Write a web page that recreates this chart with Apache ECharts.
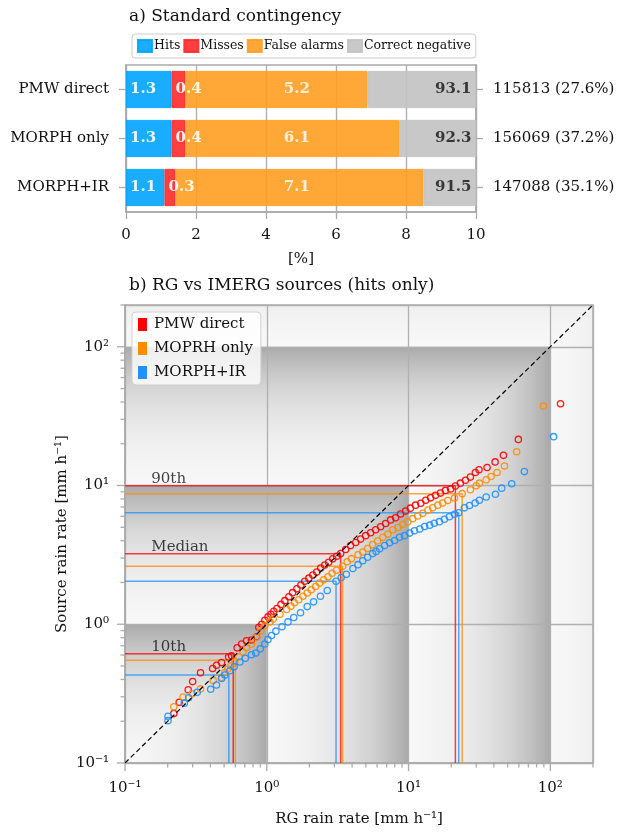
<!DOCTYPE html>
<html>
<head>
<meta charset="utf-8">
<script src="https://cdn.jsdelivr.net/npm/echarts@6/dist/echarts.min.js"></script>
<style>
  html, body { margin: 0; padding: 0; background: #ffffff; }
  #chart { width: 624px; height: 832px; }
</style>
</head>
<body>
<div id="chart"></div>
<script>
// ---------- panel a: contingency shares per IMERG source [%] ----------
const sources = ['PMW direct', 'MORPH only', 'MORPH+IR'];
const sampleLabels = ['115813 (27.6%)', '156069 (37.2%)', '147088 (35.1%)'];
const hits = [1.3, 1.3, 1.1];
const misses = [0.4, 0.4, 0.3];
const falseAlarms = [5.2, 6.1, 7.1];
const correctNegative = [93.1, 92.3, 91.5];
const pctAxis = [0, 10, 2];            // min, max, step of the [%] axis

// ---------- panel b: quantile pairs [RG, source] in mm/h ----------
const qqPMW = [
  [0.221, 0.227], [0.241, 0.274], [0.279, 0.337], [0.300, 0.386], [0.341, 0.447],
  [0.415, 0.480], [0.442, 0.506], [0.480, 0.529], [0.538, 0.581], [0.564, 0.593],
  [0.618, 0.676], [0.664, 0.721], [0.720, 0.761], [0.780, 0.770], [0.846, 0.813],
  [0.878, 0.952], [0.922, 1.00], [0.968, 1.07], [1.02, 1.13], [1.07, 1.18],
  [1.12, 1.24], [1.18, 1.30], [1.26, 1.39], [1.34, 1.48], [1.43, 1.58],
  [1.52, 1.69], [1.63, 1.80], [1.74, 1.92], [1.85, 2.04], [1.98, 2.15],
  [2.11, 2.26], [2.25, 2.38], [2.40, 2.54], [2.56, 2.67], [2.73, 2.80],
  [2.92, 2.96], [3.11, 3.09], [3.32, 3.23], [3.60, 3.46], [3.90, 3.69],
  [4.24, 3.88], [4.59, 4.11], [4.98, 4.35], [5.40, 4.57], [5.86, 4.80],
  [6.35, 5.04], [6.89, 5.33], [7.47, 5.65], [8.10, 5.86], [8.78, 6.23],
  [9.53, 6.54], [10.3, 6.87], [11.2, 7.22], [12.2, 7.45], [13.2, 7.83],
  [14.3, 8.15], [15.5, 8.49], [16.8, 8.82], [18.2, 9.22], [19.8, 9.45],
  [21.4, 9.92], [23.2, 10.4], [25.2, 10.9], [27.3, 11.5], [29.6, 12.4],
  [31.4, 13.0], [35.8, 13.5], [40.8, 14.8], [46.7, 16.5], [59.5, 21.5],
  [118, 38.8]
];
const qqMORPH = [
  [0.221, 0.254], [0.257, 0.299], [0.298, 0.315], [0.341, 0.342], [0.419, 0.394],
  [0.480, 0.414], [0.506, 0.449], [0.531, 0.476], [0.558, 0.500], [0.595, 0.535],
  [0.635, 0.581], [0.681, 0.630], [0.720, 0.676], [0.780, 0.721], [0.846, 0.805],
  [0.907, 0.896], [0.968, 0.973], [1.05, 1.04], [1.11, 1.09], [1.24, 1.18],
  [1.38, 1.28], [1.48, 1.35], [1.57, 1.43], [1.68, 1.50], [1.80, 1.59],
  [1.93, 1.68], [2.06, 1.77], [2.21, 1.87], [2.36, 1.98], [2.52, 2.09],
  [2.70, 2.20], [2.89, 2.33], [3.10, 2.45], [3.43, 2.62], [3.69, 2.82],
  [3.95, 2.97], [4.40, 3.17], [4.75, 3.32], [5.14, 3.52], [5.58, 3.75],
  [6.05, 3.98], [6.59, 4.23], [7.15, 4.47], [7.75, 4.80], [8.41, 4.98],
  [9.12, 5.26], [9.89, 5.47], [10.7, 5.77], [11.6, 6.03], [12.6, 6.30],
  [13.7, 6.65], [14.8, 6.90], [16.1, 7.22], [17.4, 7.49], [18.9, 7.79],
  [21.1, 8.13], [23.9, 8.74], [27.3, 9.32], [30.0, 9.95], [31.6, 10.4],
  [35.3, 11.0], [38.2, 11.6], [42.1, 12.4], [47.5, 13.8], [57.9, 17.5],
  [89.3, 37.4]
];
const qqIR = [
  [0.201, 0.202], [0.201, 0.217], [0.262, 0.270], [0.281, 0.295], [0.323, 0.323],
  [0.402, 0.340], [0.442, 0.365], [0.480, 0.407], [0.506, 0.430], [0.549, 0.462],
  [0.589, 0.493], [0.646, 0.535], [0.706, 0.569], [0.780, 0.603], [0.837, 0.620],
  [0.900, 0.665], [0.968, 0.721], [1.02, 0.776], [1.08, 0.829], [1.16, 0.892],
  [1.28, 0.960], [1.41, 1.04], [1.55, 1.12], [1.73, 1.21], [1.93, 1.34],
  [2.14, 1.45], [2.39, 1.59], [2.67, 1.75], [3.08, 2.04], [3.35, 2.17],
  [3.64, 2.29], [4.05, 2.52], [4.40, 2.69], [4.75, 2.87], [5.14, 3.04],
  [5.58, 3.23], [5.90, 3.35], [6.25, 3.50], [6.78, 3.69], [7.35, 3.86],
  [7.97, 4.01], [8.64, 4.23], [9.37, 4.35], [10.2, 4.54], [11.0, 4.72],
  [12.0, 4.85], [13.0, 5.06], [14.1, 5.18], [15.2, 5.35], [16.5, 5.49],
  [17.9, 5.71], [19.4, 5.96], [21.1, 6.20], [22.6, 6.36], [24.8, 6.90],
  [26.9, 7.18], [29.5, 7.49], [31.6, 7.83], [35.3, 8.26], [41.0, 8.64],
  [45.4, 9.57], [53.4, 10.3], [65.6, 12.6], [105.5, 22.5]
];
// 10th, median and 90th percentiles: RG value and source value
const pctNames = ['10th', 'Median', '90th'];
const pctRG_PMW = [0.58, 3.32, 21.4],  pctSrc_PMW = [0.613, 3.22, 9.95];
const pctRG_MORPH = [0.60, 3.43, 23.9], pctSrc_MORPH = [0.551, 2.62, 8.74];
const pctRG_IR = [0.54, 3.08, 22.6],   pctSrc_IR = [0.430, 2.04, 6.36];
const decadeLabels = ['10\u207B\u00B9', '10\u2070', '10\u00B9', '10\u00B2'];
const rateRange = [0.1, 200];

// ---------- styling ----------
const FONT = 'DejaVu Serif';
const INK = '#111111';
const FRAME = '#aaaaaa';
const GRIDLINE = '#b0b0b0';
const SHADE_MAX = 0.32;

const contingency = [
  { name: 'Hits', values: hits, color: '#00a3ff', inside: true },
  { name: 'Misses', values: misses, color: '#ff2a2a', inside: true },
  { name: 'False alarms', values: falseAlarms, color: '#ff9f22' },
  { name: 'Correct negative', values: correctNegative, color: '#c2c2c2' }
];
const qqSets = [
  { name: 'PMW direct', pts: qqPMW, rg: pctRG_PMW, src: pctSrc_PMW, color: '#ff0000' },
  { name: 'MOPRH only', pts: qqMORPH, rg: pctRG_MORPH, src: pctSrc_MORPH, color: '#ff8c00' },
  { name: 'MORPH+IR', pts: qqIR, rg: pctRG_IR, src: pctSrc_IR, color: '#1e90ff' }
];

const [R0, R1] = rateRange;
const decadeFmt = v => {
  const e = Math.log10(v), r = Math.round(e);
  return (Math.abs(e - r) < 1e-6 && r >= -1 && r <= 2) ? decadeLabels[r + 1] : '';
};

// gradient stops: shading grows linearly with the rate inside one decade
const shadeStops = [];
for (let i = 0; i <= 24; i++) {
  const t = i / 24;
  const a = SHADE_MAX * (Math.pow(10, t) - 1) / 9;
  shadeStops.push({ offset: t, color: 'rgba(0,0,0,' + a.toFixed(4) + ')' });
}
const bandLows = [0.1, 1, 10, 100];

// log-axis tick marks (decades long, 2..9 multiples short)
const tickMarks = [];
bandLows.forEach(d => {
  tickMarks.push({ v: d, major: true });
  for (let m = 2; m <= 9; m++) if (d * m <= R1 + 1e-9) tickMarks.push({ v: d * m, major: false });
});

const txt = (size, extra) => Object.assign({ fontFamily: FONT, fontSize: size, color: INK }, extra || {});

const series = [];

// panel a bars
contingency.forEach(c => {
  series.push({
    type: 'bar', name: c.name, stack: 'share', xAxisIndex: 0, yAxisIndex: 0,
    data: c.values, barWidth: '76%',
    itemStyle: { color: c.color, opacity: 0.9, borderColor: c.color, borderWidth: 1 },
    label: c.inside ? {
      show: true, position: 'insideLeft', distance: 4, color: '#ffffff',
      fontFamily: FONT, fontWeight: 'bold', fontSize: 15,
      formatter: p => p.value.toFixed(1)
    } : { show: false },
    emphasis: { disabled: true }, silent: true
  });
});
// false-alarm values written across the middle of the axis
series.push({
  type: 'scatter', xAxisIndex: 0, yAxisIndex: 0, clip: false, silent: true, z: 6,
  symbolSize: 1, itemStyle: { color: 'rgba(0,0,0,0)' },
  data: falseAlarms.map((v, i) => [4.88, i]),
  label: { show: true, position: 'inside', color: '#ffffff', fontFamily: FONT,
           fontWeight: 'bold', fontSize: 15, formatter: p => falseAlarms[p.dataIndex].toFixed(1) }
});
// correct-negative values at the right edge
series.push({
  type: 'scatter', xAxisIndex: 0, yAxisIndex: 0, clip: false, silent: true, z: 6,
  symbolSize: 1, itemStyle: { color: 'rgba(0,0,0,0)' },
  data: correctNegative.map((v, i) => [pctAxis[1], i]),
  label: { show: true, position: 'left', distance: 4, color: INK, fontFamily: FONT,
           fontWeight: 'bold', fontSize: 15, formatter: p => correctNegative[p.dataIndex].toFixed(1) }
});

// panel b: decade shading (L-shaped bands, darkest towards the upper decade edge)
series.push({
  type: 'custom', xAxisIndex: 1, yAxisIndex: 2, silent: true, z: -1,
  data: [[1, 1]],
  renderItem: (params, api) => {
    const kids = [];
    const a = api.coord([R0, R0]), b = api.coord([R1, R1]);
    kids.push({ type: 'rect', shape: { x: a[0], y: b[1], width: b[0] - a[0], height: a[1] - b[1] },
                style: { fill: '#f8f8f8' } });
    bandLows.forEach(low => {
      const high = low * 10, h = Math.min(high, R1);
      const lowPt = api.coord([low, low]);
      const full = api.coord([high, high]);
      const col = [[low, R0], [h, R0], [h, h], [low, low]].map(p => api.coord(p));
      kids.push({ type: 'polygon', shape: { points: col },
        style: { fill: { type: 'linear', x: lowPt[0], y: 0, x2: full[0], y2: 0, colorStops: shadeStops, global: true } } });
      const row = [[R0, low], [low, low], [h, h], [R0, h]].map(p => api.coord(p));
      kids.push({ type: 'polygon', shape: { points: row },
        style: { fill: { type: 'linear', x: 0, y: lowPt[1], x2: 0, y2: full[1], colorStops: shadeStops, global: true } } });
    });
    return { type: 'group', children: kids };
  }
});

// percentile guide lines
qqSets.forEach(s => {
  s.rg.forEach((x, i) => {
    series.push({
      type: 'line', xAxisIndex: 1, yAxisIndex: 2, silent: true, symbol: 'none', z: 3,
      data: [[R0, s.src[i]], [x, s.src[i]], [x, R0]],
      lineStyle: { color: s.color, width: 1.5, opacity: 0.75 }
    });
  });
});

// quantile-quantile points
qqSets.forEach(s => {
  series.push({
    type: 'scatter', name: s.name, xAxisIndex: 1, yAxisIndex: 2, z: 4, silent: true,
    data: s.pts, symbol: 'circle', symbolSize: 6.3,
    itemStyle: { color: 'rgba(255,255,255,0)', borderColor: s.color, borderWidth: 1.3, opacity: 0.9 }
  });
});

// 1:1 line
series.push({
  type: 'line', xAxisIndex: 1, yAxisIndex: 2, silent: true, symbol: 'none', z: 5,
  data: [[R0, R0], [R1, R1]],
  lineStyle: { color: '#000000', width: 1.2, type: [5, 3] }
});

// percentile captions
series.push({
  type: 'scatter', xAxisIndex: 1, yAxisIndex: 2, silent: true, z: 5,
  symbolSize: 1, itemStyle: { color: 'rgba(0,0,0,0)' },
  data: [
    { value: [0.152, 0.68], name: pctNames[0] },
    { value: [0.152, 3.60], name: pctNames[1] },
    { value: [0.152, 11.2], name: pctNames[2] }
  ],
  label: { show: true, position: 'right', distance: 0, formatter: '{b}', fontFamily: FONT, fontSize: 15, color: INK }
});

// tick marks outside the log axes
series.push({
  type: 'custom', xAxisIndex: 1, yAxisIndex: 2, silent: true, z: 6,
  data: [[1, 1]],
  renderItem: (params, api) => {
    const kids = [];
    tickMarks.forEach(t => {
      const len = t.major ? 8 : 4.5;
      const px = api.coord([t.v, R0]);
      kids.push({ type: 'line', shape: { x1: px[0], y1: px[1], x2: px[0], y2: px[1] + len },
                  style: { stroke: FRAME, lineWidth: 1.3 } });
      const py = api.coord([R0, t.v]);
      kids.push({ type: 'line', shape: { x1: py[0] - len, y1: py[1], x2: py[0], y2: py[1] },
                  style: { stroke: FRAME, lineWidth: 1.3 } });
    });
    return { type: 'group', children: kids };
  }
});

const catAxis = (data, position, extra) => Object.assign({
  type: 'category', gridIndex: 0, data: data, inverse: true, position: position,
  axisLine: { show: true, lineStyle: { color: FRAME, width: 1.5 } },
  axisTick: { show: true, alignWithLabel: true, length: 7, lineStyle: { color: FRAME, width: 1.3 } },
  axisLabel: txt(15, { margin: 17 }),
  splitLine: { show: false }
}, extra || {});

const option = {
  animation: false,
  backgroundColor: '#ffffff',
  title: [
    { text: 'a) Standard contingency', left: 124, top: 3,
      textStyle: txt(17, { fontWeight: 'normal' }) },
    { text: 'b) RG vs IMERG sources (hits only)', left: 124, top: 272,
      textStyle: txt(17, { fontWeight: 'normal' }) }
  ],
  legend: [
    {
      data: contingency.map(c => c.name), left: 132, top: 34, orient: 'horizontal',
      icon: 'rect', itemWidth: 14, itemHeight: 12, itemGap: 3,
      padding: [5, 5], borderColor: '#cccccc', borderWidth: 1, borderRadius: 3,
      backgroundColor: '#ffffff', selectedMode: false,
      textStyle: txt(12.5, { padding: [0, 0, 0, -3] })
    },
    {
      data: qqSets.map(s => ({ name: s.name, icon: 'rect', itemStyle: { color: s.color, borderWidth: 0, opacity: 1 } })),
      left: 132, top: 312, orient: 'vertical',
      itemWidth: 9, itemHeight: 13, itemGap: 9,
      padding: [5, 8, 5, 6], borderColor: '#d0d0d0', borderWidth: 1, borderRadius: 4,
      backgroundColor: 'rgba(255,255,255,0.8)', selectedMode: false,
      textStyle: txt(15, { padding: [0, 0, 0, 2] })
    }
  ],
  grid: [
    { left: 126, top: 65, width: 350, height: 147, show: true, borderColor: FRAME, borderWidth: 1.5, backgroundColor: 'transparent' },
    { left: 125, top: 305, width: 468, height: 466, show: true, borderColor: FRAME, borderWidth: 1.5, backgroundColor: 'transparent' }
  ],
  xAxis: [
    {
      type: 'value', gridIndex: 0, min: pctAxis[0], max: pctAxis[1], interval: pctAxis[2],
      name: '[%]', nameLocation: 'middle', nameGap: 40, nameTextStyle: txt(15),
      axisLine: { show: true, lineStyle: { color: FRAME, width: 1.5 } },
      axisTick: { show: true, length: 7, lineStyle: { color: FRAME, width: 1.3 } },
      axisLabel: txt(15, { margin: 16 }),
      splitLine: { show: true, lineStyle: { color: GRIDLINE, width: 1.4 } }
    },
    {
      type: 'log', logBase: 10, gridIndex: 1, min: R0, max: R1,
      name: 'RG rain rate [mm h\u207B\u00B9]', nameLocation: 'middle', nameGap: 49, nameTextStyle: txt(15),
      axisLine: { show: true, lineStyle: { color: FRAME, width: 1.5 } },
      axisTick: { show: false },
      axisLabel: txt(15, { margin: 18, formatter: decadeFmt }),
      splitLine: { show: true, lineStyle: { color: GRIDLINE, width: 1.3 } }
    }
  ],
  yAxis: [
    catAxis(sources, 'left'),
    catAxis(sampleLabels, 'right'),
    {
      type: 'log', logBase: 10, gridIndex: 1, min: R0, max: R1,
      name: 'Source rain rate [mm h\u207B\u00B9]', nameLocation: 'middle', nameGap: 55,
      nameMoveOverlap: false, nameTextStyle: txt(15),
      axisLine: { show: true, lineStyle: { color: FRAME, width: 1.5 } },
      axisTick: { show: false },
      axisLabel: txt(15, { margin: 16, formatter: decadeFmt }),
      splitLine: { show: true, lineStyle: { color: GRIDLINE, width: 1.3 } }
    }
  ],
  series: series
};

const chart = echarts.init(document.getElementById('chart'), null, { renderer: 'canvas' });
chart.setOption(option);
</script>
</body>
</html>
